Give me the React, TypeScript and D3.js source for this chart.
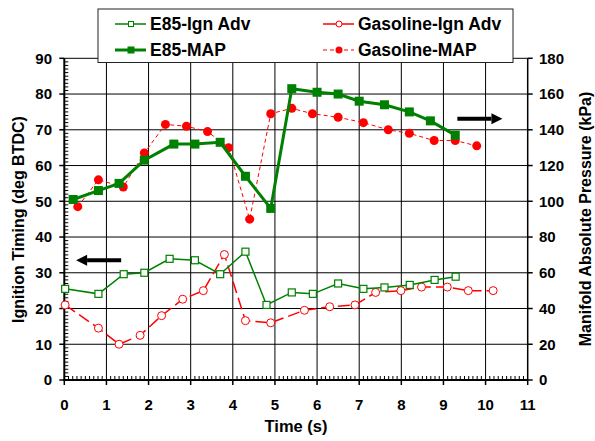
import { scaleLinear, line, range } from "d3";

// time (s) / value pairs
const e85IgnT = [0.02, 0.81, 1.41, 1.9, 2.5, 3.1, 3.7, 4.3, 4.8, 5.4, 5.9, 6.5, 7.1, 7.6, 8.2, 8.79, 9.29];
const e85Ign = [25.5, 24.1, 29.6, 30.0, 33.9, 33.5, 29.6, 35.9, 21.0, 24.5, 24.1, 27.0, 25.5, 25.9, 26.6, 28.0, 28.9];

const gasIgnT = [0.02, 0.81, 1.3, 1.8, 2.31, 2.81, 3.3, 3.8, 4.3, 4.9, 5.7, 6.3, 6.9, 7.39, 7.99, 8.48, 9.09, 9.59, 10.18];
const gasIgn = [21.0, 14.5, 10.0, 12.5, 18.0, 22.6, 25.0, 35.1, 16.6, 16.0, 19.5, 20.5, 21.0, 24.5, 25.0, 26.0, 26.0, 25.0, 25.0];

const e85MapT = [0.21, 0.81, 1.3, 1.9, 2.6, 3.1, 3.7, 4.3, 4.9, 5.4, 6.0, 6.5, 7.0, 7.6, 8.19, 8.69, 9.28];
const e85Map = [101, 106, 110, 123, 132, 132, 133, 114, 96, 163, 161, 160, 156, 154, 150, 145, 137];

const gasMapT = [0.32, 0.81, 1.4, 1.9, 2.4, 2.9, 3.4, 3.9, 4.4, 4.9, 5.4, 5.89, 6.5, 7.1, 7.69, 8.19, 8.78, 9.28, 9.79];
const gasMap = [97, 112, 108, 127, 143, 142, 139, 130, 90, 149, 152, 149, 147, 144, 140, 138, 134, 134, 131];

const xTicks = range(0, 12);
const leftTicks = range(0, 100, 10);
const rightTicks = range(0, 200, 20);

const GREEN = "#008000";
const RED = "#ff0000";
const FONT = "'Liberation Sans', Arial, sans-serif";

export default function App() {
  const W = 595;
  const H = 441;
  const x = scaleLinear().domain([0, 11]).range([64.3, 527.7]);
  const yL = scaleLinear().domain([0, 90]).range([380, 58.3]);
  const yR = scaleLinear().domain([0, 180]).range([380, 58.3]);

  const pts = (ts: number[], vs: number[], y: any) =>
    ts.map((t, i) => [x(t), y(vs[i])] as [number, number]);

  const e85IgnP = pts(e85IgnT, e85Ign, yL);
  const gasIgnP = pts(gasIgnT, gasIgn, yL);
  const e85MapP = pts(e85MapT, e85Map, yR);
  const gasMapP = pts(gasMapT, gasMap, yR);
  const ln = line();

  const x0 = x(0);
  const x1 = x(11);
  const y0 = yL(0);
  const yTop = yL(90);

  const minorX = range(0, 110).map((i) => i / 10).filter((v) => v % 1 !== 0);
  const minorY = range(0, 90).filter((v) => v % 10 !== 0);

  const legendItems = [
    { label: "E85-Ign Adv", col: 0, row: 0, kind: "e85Ign" },
    { label: "E85-MAP", col: 0, row: 1, kind: "e85Map" },
    { label: "Gasoline-Ign Adv", col: 1, row: 0, kind: "gasIgn" },
    { label: "Gasoline-MAP", col: 1, row: 1, kind: "gasMap" },
  ];

  const arrow = (xa: number, xb: number, y: number) => {
    const dir = xb > xa ? 1 : -1;
    const head = 11;
    return (
      <g>
        <line x1={xa} y1={y} x2={xb - dir * head} y2={y} stroke="#000" strokeWidth={4} />
        <path d={`M${xb},${y} L${xb - dir * head},${y - 5.5} L${xb - dir * head},${y + 5.5} Z`} fill="#000" />
      </g>
    );
  };

  return (
    <svg width={W} height={H} style={{ position: "absolute", left: 0, top: 0, background: "#fff" }} fontFamily={FONT}>
      {/* grid */}
      {xTicks.slice(1, 11).map((t) => (
        <line key={"gx" + t} x1={x(t)} x2={x(t)} y1={yTop} y2={y0} stroke="#000" strokeWidth={1} />
      ))}
      {leftTicks.slice(1).map((v) => (
        <line key={"gy" + v} x1={x0} x2={x1} y1={yL(v)} y2={yL(v)} stroke="#000" strokeWidth={1} />
      ))}

      {/* minor ticks */}
      {minorX.map((t) => (
        <line key={"mx" + t} x1={x(t)} x2={x(t)} y1={y0} y2={y0 - 4} stroke="#000" strokeWidth={1} />
      ))}
      {minorY.map((v) => (
        <line key={"my" + v} x1={x0} x2={x0 + 4} y1={yL(v)} y2={yL(v)} stroke="#000" strokeWidth={1} />
      ))}

      {/* axes */}
      <line x1={x0} x2={x0} y1={yTop} y2={y0 + 1} stroke="#000" strokeWidth={2} />
      <line x1={x0 - 1} x2={x1} y1={y0} y2={y0} stroke="#000" strokeWidth={2} />
      <line x1={x1} x2={x1} y1={yTop} y2={y0} stroke="#000" strokeWidth={1.5} />

      {leftTicks.map((v) => (
        <g key={"lt" + v}>
          <line x1={x0 - 5} x2={x0} y1={yL(v)} y2={yL(v)} stroke="#000" strokeWidth={1.5} />
          <text x={52} y={yL(v)} dy="0.36em" textAnchor="end" fontSize={15} fontWeight="bold">{v}</text>
        </g>
      ))}
      {rightTicks.map((v) => (
        <g key={"rt" + v}>
          <line x1={x1} x2={x1 + 5} y1={yR(v)} y2={yR(v)} stroke="#000" strokeWidth={1.5} />
          <text x={539} y={yR(v)} dy="0.36em" textAnchor="start" fontSize={15} fontWeight="bold">{v}</text>
        </g>
      ))}
      {xTicks.map((t) => (
        <g key={"xt" + t}>
          <line x1={x(t)} x2={x(t)} y1={y0} y2={y0 + 5} stroke="#000" strokeWidth={1.5} />
          <text x={x(t)} y={410} textAnchor="middle" fontSize={15} fontWeight="bold">{t}</text>
        </g>
      ))}

      {/* axis titles */}
      <text transform={`translate(18,219.5) rotate(-90)`} textAnchor="middle" dy="0.36em" fontSize={16} fontWeight="bold">
        Ignition Timing (deg BTDC)
      </text>
      <text transform={`translate(585,219) rotate(-90)`} textAnchor="middle" dy="0.36em" fontSize={16} fontWeight="bold">
        Manifold Absolute Pressure (kPa)
      </text>
      <text x={296} y={432} textAnchor="middle" fontSize={16.5} fontWeight="bold">Time (s)</text>

      {/* series */}
      <path d={ln(gasIgnP) || ""} fill="none" stroke={RED} strokeWidth={1.5} strokeDasharray="12,5" />
      {gasIgnP.map(([px, py], i) => (
        <circle key={"gi" + i} cx={px} cy={py} r={4} fill="#fff" stroke={RED} strokeWidth={1} />
      ))}
      <path d={ln(gasMapP) || ""} fill="none" stroke={RED} strokeWidth={1} strokeDasharray="4,3" />
      {gasMapP.map(([px, py], i) => (
        <circle key={"gm" + i} cx={px} cy={py} r={4.5} fill={RED} />
      ))}
      <path d={ln(e85IgnP) || ""} fill="none" stroke={GREEN} strokeWidth={1.5} />
      {e85IgnP.map(([px, py], i) => (
        <rect key={"ei" + i} x={px - 3.5} y={py - 3.5} width={7} height={7} fill="#fff" stroke={GREEN} strokeWidth={1.2} />
      ))}
      <path d={ln(e85MapP) || ""} fill="none" stroke={GREEN} strokeWidth={3} />
      {e85MapP.map(([px, py], i) => (
        <rect key={"em" + i} x={px - 4.5} y={py - 4.5} width={9} height={9} fill={GREEN} />
      ))}

      {/* arrows */}
      {arrow(x(1.35), x(0.28), yL(33.5))}
      {arrow(x(9.33), x(10.4), yR(146.2))}

      {/* legend */}
      <rect x={98} y={9} width={415} height={53.5} fill="#fff" stroke="#222" strokeWidth={1} />
      {legendItems.map((it) => {
        const lx = it.col === 0 ? 115 : 323;
        const ly = it.row === 0 ? 24 : 50;
        const mx = lx + 16;
        return (
          <g key={it.label}>
            {it.kind === "e85Ign" && (
              <>
                <line x1={lx} x2={lx + 31} y1={ly} y2={ly} stroke={GREEN} strokeWidth={1.5} />
                <rect x={mx - 2.5} y={ly - 2.5} width={5} height={5} fill="#fff" stroke={GREEN} strokeWidth={1} />
              </>
            )}
            {it.kind === "e85Map" && (
              <>
                <line x1={lx} x2={lx + 31} y1={ly} y2={ly} stroke={GREEN} strokeWidth={3} />
                <rect x={mx - 3.5} y={ly - 3.5} width={7} height={7} fill={GREEN} />
              </>
            )}
            {it.kind === "gasIgn" && (
              <>
                <line x1={lx} x2={lx + 31} y1={ly} y2={ly} stroke={RED} strokeWidth={1.5} />
                <circle cx={mx} cy={ly} r={3} fill="#fff" stroke={RED} strokeWidth={1} />
              </>
            )}
            {it.kind === "gasMap" && (
              <>
                <line x1={lx} x2={lx + 31} y1={ly} y2={ly} stroke={RED} strokeWidth={1} strokeDasharray="4,3" />
                <circle cx={mx} cy={ly} r={3.5} fill={RED} />
              </>
            )}
            <text x={lx + 35} y={ly} dy="0.36em" fontSize={17.5} fontWeight="bold">{it.label}</text>
          </g>
        );
      })}
    </svg>
  );
}
